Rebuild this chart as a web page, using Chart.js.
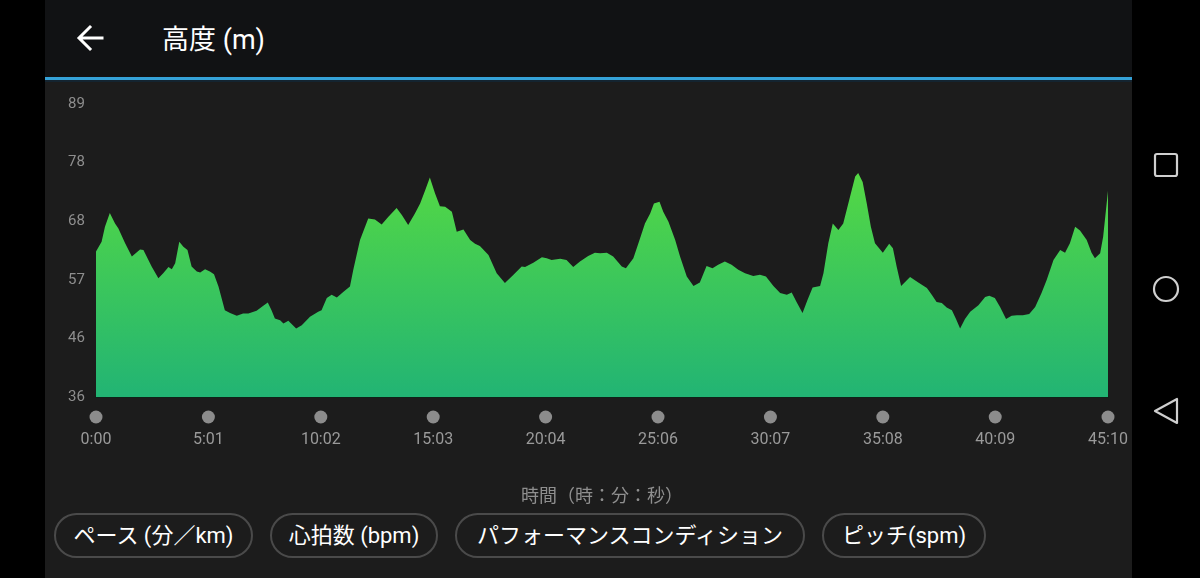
<!DOCTYPE html>
<html>
<head>
<meta charset="utf-8">
<script src="https://cdn.jsdelivr.net/npm/chart.js@4/dist/chart.umd.min.js"></script>
<style>
  html, body { margin: 0; padding: 0; background: #000; }
  body { width: 1200px; height: 578px; position: relative; overflow: hidden; font-family: Roboto, "Noto Sans CJK JP", sans-serif; }
  #app { position: absolute; left: 45px; top: 0; width: 1087px; height: 578px; background: #1c1c1c; }
  #header { position: absolute; left: 0; top: 0; width: 1087px; height: 77px; background: #111214; }
  #blue { position: absolute; left: 0; top: 77px; width: 1087px; height: 3px; background: #35a2d8; }
  #blue2 { position: absolute; left: 0; top: 80px; width: 1087px; height: 2px; background: #142430; }
  #title { position: absolute; left: 117px; top: 21px; color: #fff; font-size: 27px; line-height: 38px; }
  #back { position: absolute; left: 30px; top: 24px; }
  #wrap { position: absolute; left: 0; top: 80px; width: 1087px; height: 432px; }
  .pill { position: absolute; top: 513px; height: 41px; border: 2px solid #4a4a4a; border-radius: 24px;
          color: #fff; font-size: 22px; line-height: 41px; text-align: center; box-sizing: content-box; }
  #nav { position: absolute; left: 1132px; top: 0; width: 68px; height: 578px; background: #000; }
</style>
</head>
<body>
<div id="app">
  <div id="header">
    <svg id="back" width="32" height="28" viewBox="0 0 32 28">
      <path d="M27 14 H5 M15 3 L4 14 L15 25" stroke="#fff" stroke-width="3" fill="none" stroke-linecap="square"/>
    </svg>
    <div id="title">高度 (m)</div>
  </div>
  <div id="blue"></div>
  <div id="blue2"></div>
  <div id="wrap"><canvas id="myChart"></canvas></div>
  <div class="pill" style="left:9px;width:195px;">ペース (分／km)</div>
  <div class="pill" style="left:225px;width:164px;">心拍数 (bpm)</div>
  <div class="pill" style="left:410px;width:346px;">パフォーマンスコンディション</div>
  <div class="pill" style="left:777px;width:160px;">ピッチ(spm)</div>
</div>
<div id="nav">
  <svg width="68" height="578">
    <rect x="23" y="154" width="22" height="22" rx="2" stroke="#cfcfcf" stroke-width="2.2" fill="none"/>
    <circle cx="34" cy="289" r="12" stroke="#cfcfcf" stroke-width="2.2" fill="none"/>
    <path d="M23 411 L45 399 L45 423 Z" stroke="#cfcfcf" stroke-width="2.2" fill="none" stroke-linejoin="round"/>
  </svg>
</div>
<script>
// elapsed time (seconds) and elevation (m)
const timeSec = [0,15,24,37,51,60,78,96,118,127,149,167,180,194,203,212,223,234,245,256,270,279,292,305,316,328,345,359,377,394,408,430,448,460,470,479,493,502,515,536,551,573,595,604,618,631,645,662,680,
  689,707,729,747,765,783,805,819,836,854,868,881,894,908,921,935,953,966,984,1002,1015,1028,1051,1073,1095,1118,1140,1149,1171,1194,1207,1220,1243,1260,1278,1296,1318,1336,1350,
  1368,1385,1408,1419,1439,1457,1470,1484,1494,1509,1519,1533,1551,1564,1582,1600,1617,1635,1651,1666,1684,1702,1720,1738,1760,1778,1794,1814,1832,1850,1863,1876,1892,1905,1919,1939,1948,1961,1973,1988,2001,2019,
  2033,2041,2053,2064,2075,2086,2107,2124,2134,2144,2156,2180,2202,2225,2238,2251,2265,2278,2292,2303,2314,2327,2341,2363,2381,2392,2407,2421,2437,2452,2466,2482,2499,2515,2532,2546,2564,2582,2595,2608,2622,2635,2653,2666,2675,2689,2697,2710];
const elevation = [62.3,64.1,66.8,69.3,67.4,66.5,63.8,61.4,62.7,62.6,59.6,57.5,58.4,59.5,59.1,60.2,64.1,63.2,62.6,59.6,58.7,58.5,59.1,58.7,58.2,56.0,51.7,51.2,50.7,51.1,51.1,51.6,52.5,53.1,51.7,50.2,49.9,49.3,49.8,48.4,49.0,50.5,51.4,51.7,53.9,54.5,54.0,55.0,56.0,
  59.0,64.4,68.3,68.1,67.2,68.6,70.2,68.9,67.1,69.2,71.0,73.3,75.7,72.8,70.5,70.4,69.5,65.9,66.3,64.4,63.7,63.3,61.7,58.4,56.6,58.1,59.6,59.5,60.3,61.3,61.1,60.8,61.0,60.8,59.5,60.5,61.5,62.1,62.0,
  62.1,61.4,59.6,59.3,61.1,64.7,67.4,69.2,71.0,71.3,69.5,67.7,64.4,61.4,57.8,56.1,56.7,59.7,59.3,59.9,60.5,59.9,59.0,58.4,57.9,58.1,57.8,56.1,54.8,54.5,54.9,53.2,51.2,53.5,55.8,56.1,58.4,63.8,67.4,66.2,67.4,72.2,
  75.9,76.5,74.9,71.0,66.8,63.8,62.1,63.7,62.9,59.6,56.1,57.7,56.7,55.7,54.5,53.2,53.0,52.2,51.7,50.1,48.4,50.1,51.4,52.6,54.1,54.3,53.9,52.3,50.1,50.7,50.8,50.8,51.0,52.3,54.8,57.2,60.8,62.6,62.1,63.8,66.8,66.1,64.4,62.1,61.1,62.0,65.0,73.3];

const xTicks = [0,301,602,903,1204,1505,1806,2107,2408,2710];
const xTickLabels = ['0:00','5:01','10:02','15:03','20:04','25:06','30:07','35:08','40:09','45:10'];
const yTicks = [36,46.6,57.2,67.8,78.4,89];
const yTickLabels = ['36','46','57','68','78','89'];

const points = timeSec.map((t, i) => ({ x: t, y: elevation[i] }));

// grey dots under each time tick
const tickDots = {
  id: 'tickDots',
  afterDraw(chart) {
    const sc = chart.scales.x;
    const ctx = chart.ctx;
    ctx.save();
    ctx.fillStyle = '#8c8c8c';
    sc.ticks.forEach(tk => {
      ctx.beginPath();
      ctx.arc(sc.getPixelForValue(tk.value), sc.top + 20, 6.5, 0, Math.PI * 2);
      ctx.fill();
    });
    ctx.restore();
  }
};

const myChartRef = document.getElementById('myChart').getContext('2d');
new Chart(myChartRef, {
  type: 'line',
  data: {
    datasets: [{
      label: '高度',
      data: points,
      fill: 'start',
      borderWidth: 0,
      pointRadius: 0,
      tension: 0,
      backgroundColor: (c) => {
        const area = c.chart.chartArea;
        if (!area) return '#3cc860';
        const g = c.chart.ctx.createLinearGradient(0, area.top + 60, 0, area.bottom);
        g.addColorStop(0, '#56da42');
        g.addColorStop(1, '#22b474');
        return g;
      }
    }]
  },
  options: {
    responsive: true,
    maintainAspectRatio: false,
    animation: false,
    layout: { padding: { left: 23, right: 24, top: 24, bottom: 0 } },
    plugins: { legend: { display: false }, tooltip: { enabled: false } },
    scales: {
      x: {
        type: 'linear',
        min: 0,
        max: 2710,
        // tick marks hidden, their length only pushes the labels down
        grid: { display: false, drawTicks: true, tickLength: 33 },
        border: { display: true, color: '#0e2219', width: 2 },
        afterBuildTicks: (s) => { s.ticks = xTicks.map(v => ({ value: v })); },
        afterFit: (s) => { s.height = 115; },
        ticks: {
          autoSkip: false,
          maxRotation: 0,
          padding: 0,
          color: '#9a9a9a',
          font: { family: 'Roboto', size: 16 },
          callback: (v, i) => xTickLabels[i]
        },
        title: {
          display: true,
          text: '時間（時：分：秒）',
          color: '#8f8f8f',
          font: { family: '"Noto Sans CJK JP"', size: 18 },
          padding: { top: 0, bottom: 6 }
        }
      },
      y: {
        min: 36,
        max: 89,
        grid: { display: false, drawTicks: false },
        border: { display: false },
        afterBuildTicks: (s) => { s.ticks = yTicks.map(v => ({ value: v })); },
        afterFit: (s) => { s.width = 28; },
        ticks: {
          crossAlign: 'far',
          color: '#8e8e8e',
          font: { family: 'Roboto', size: 15 },
          callback: (v, i) => yTickLabels[i]
        }
      }
    }
  },
  plugins: [tickDots]
});
</script>
</body>
</html>
